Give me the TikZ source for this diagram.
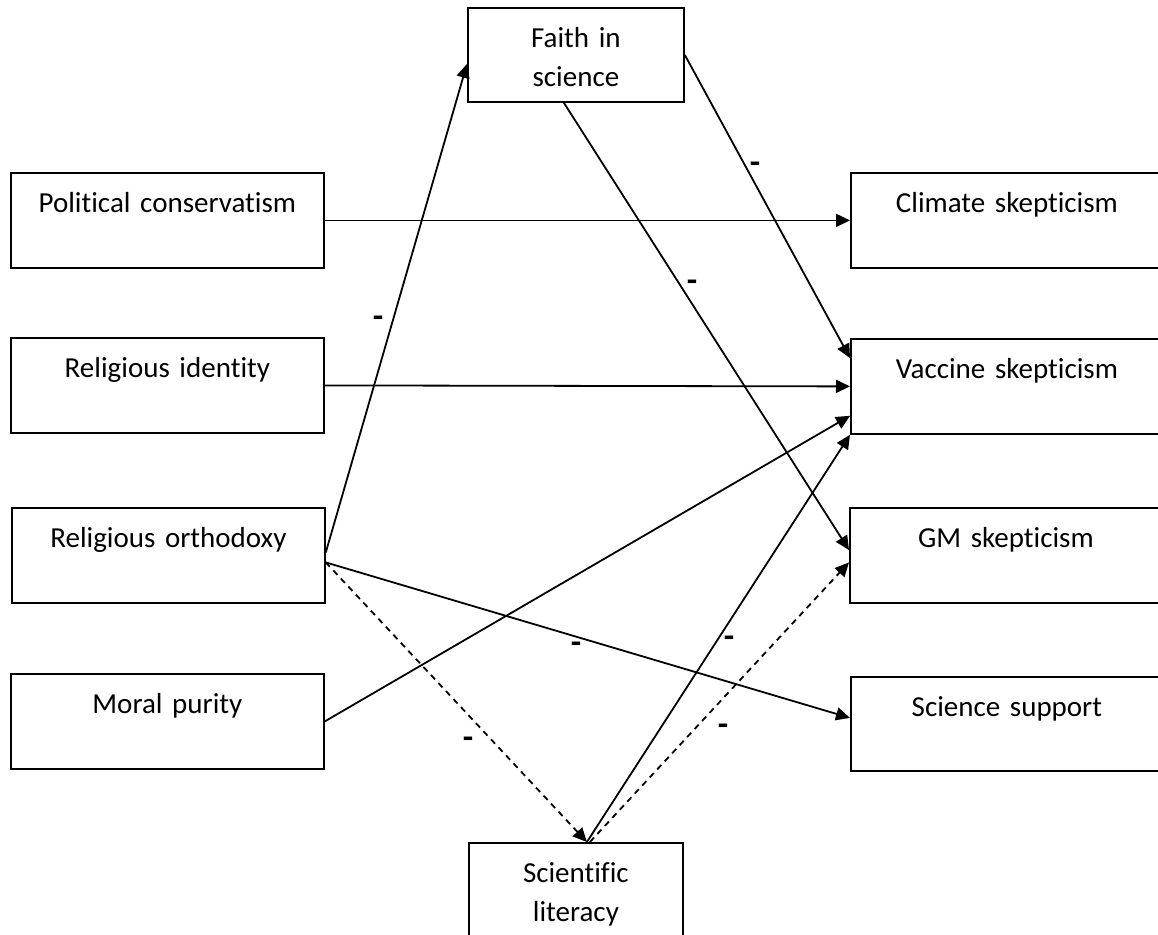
\documentclass[tikz,border=0pt]{standalone}
\usepackage{fontspec}
\setmainfont{Carlito}[Ligatures=NoCommon]
\usetikzlibrary{arrows.meta}

\begin{document}
\begin{tikzpicture}[x=0.5pt, y=-0.5pt, line width=0.9pt, >={Triangle[length=7pt,width=6.5pt]}, font=\fontsize{14.5}{19.5}\selectfont]
    \tikzstyle{box}=[draw, line width=0.9pt, anchor=north west, inner sep=0pt, align=center, text height=20pt, text depth=27.5pt]
    \tikzstyle{cause box}=[box, text width=156.5pt]
    \tikzstyle{effect box}=[box, text width=156pt]
    \tikzstyle{mediator box}=[box, text width=108pt, text depth=27pt]
    \tikzstyle{link}=[->]
    \tikzstyle{weak link}=[->, dash pattern=on 3pt off 2.5pt]
    \tikzstyle{neg}=[font=\fontsize{17}{19.5}\selectfont\bfseries, inner sep=0pt]

    \useasboundingbox (0,0) rectangle (1158,934);

    % Predictors
    \node[cause box] (pol) at (10,172) {Political conservatism};
    \node[cause box] (relid) at (10,337) {Religious identity};
    \node[cause box] (orth) at (11,507) {Religious orthodoxy};
    \node[cause box] (moral) at (10,673) {Moral purity};

    % Mediators
    \node[mediator box] (faith) at (467,7) {Faith in\\science};
    \node[mediator box, text width=107pt] (lit) at (468,842) {Scientific\\literacy};

    % Outcomes
    \node[effect box] (climate) at (850,172) {Climate skepticism};
    \node[effect box] (vaccine) at (850,338) {Vaccine skepticism};
    \node[effect box] (gm) at (849,507) {GM skepticism};
    \node[effect box, text depth=27pt] (support) at (850,676) {Science support};

    % Direct links
    \path[link] (pol.east) edge (climate.west);
    \path[link] (relid.east) edge (vaccine.west);
    \path[link] (moral.east) edge ([yshift=9.5pt]vaccine.south west);
    \path[link] ([yshift=-3.5pt]orth.east) edge ([yshift=3pt]support.west);

    % Through faith in science
    \path[link] ([yshift=1.5pt]orth.east) edge ([yshift=-4.5pt]faith.west);
    \path[link] (faith.east) edge ([yshift=-10pt]vaccine.north west);
    \path[link] ([xshift=-6pt]faith.south) edge ([yshift=-21.5pt]gm.north west);

    % Through scientific literacy
    \path[weak link] ([yshift=-3.5pt]orth.east) edge ([xshift=5.5pt]lit.north);
    \path[link] ([xshift=5.5pt]lit.north) edge (vaccine.south west);
    \path[weak link] ([xshift=7pt]lit.north) edge ([yshift=-3.5pt]gm.west);

    % Negative signs
    \node[neg] (n1) at (755,168) {-};
    \node[neg] (n2) at (692,286) {-};
    \node[neg] (n3) at (378,322) {-};
    \node[neg] (n4) at (576,648) {-};
    \node[neg] (n5) at (729,642) {-};
    \node[neg] (n6) at (723,730) {-};
    \node[neg] (n7) at (468,743) {-};

\end{tikzpicture}
\end{document}
